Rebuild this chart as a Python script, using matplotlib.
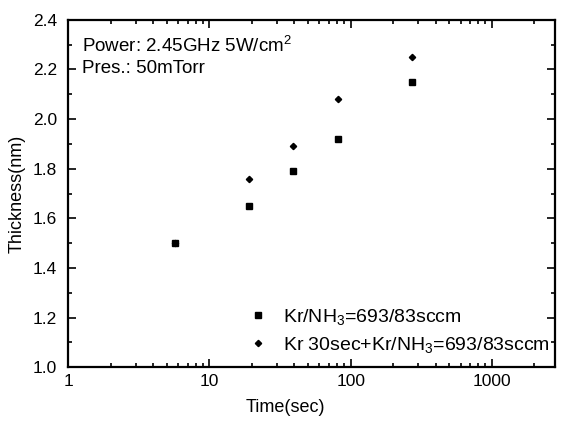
import matplotlib
matplotlib.use('Agg')
import matplotlib.pyplot as plt
from matplotlib.ticker import MultipleLocator, LogLocator, FixedLocator

plt.rcParams['font.family'] = ['Liberation Sans', 'DejaVu Sans']
plt.rcParams['mathtext.default'] = 'regular'

# nitridation time (s) and film thickness (nm)
time_kr_nh3 = [5.7, 19, 39, 82, 270]
thick_kr_nh3 = [1.50, 1.65, 1.79, 1.92, 2.15]

time_kr_pre = [5.7, 19, 39, 82, 270]
thick_kr_pre = [1.50, 1.76, 1.89, 2.08, 2.25]

label_a = 'Kr/NH$_3$=693/83sccm'
label_b = 'Kr 30sec+Kr/NH$_3$=693/83sccm'

fig = plt.figure(figsize=(5.63, 4.23), dpi=100)
ax = fig.add_axes([0.121, 0.132, 0.865, 0.821])

ax.plot(time_kr_nh3, thick_kr_nh3, 's', color='black', markersize=4.5,
        linestyle='none', label=label_a)
ax.plot(time_kr_pre, thick_kr_pre, 'D', color='black', markersize=3.2,
        linestyle='none', label=label_b)

ax.set_xscale('log')
ax.set_xlim(1, 2800)
ax.set_ylim(1.0, 2.4)
ax.xaxis.set_major_locator(FixedLocator([1, 10, 100, 1000]))
ax.set_xticklabels(['1', '10', '100', '1000'])
ax.xaxis.set_minor_locator(LogLocator(base=10, subs=range(2, 10), numticks=20))
ax.yaxis.set_major_locator(MultipleLocator(0.2))
ax.yaxis.set_minor_locator(MultipleLocator(0.1))
ax.yaxis.set_major_formatter(plt.FormatStrFormatter('%.1f'))

ax.tick_params(which='both', direction='in', top=True, right=True,
               labelsize=12.5, width=1.2)
ax.tick_params(which='major', length=6)
ax.tick_params(which='minor', length=3)
ax.tick_params(axis='x', which='major', pad=5)
ax.tick_params(axis='y', which='major', pad=8)
for s in ax.spines.values():
    s.set_linewidth(1.6)

ax.set_xlabel('Time(sec)', fontsize=13)
ax.xaxis.set_label_coords(0.446, -0.092)
ax.set_ylabel('Thickness(nm)', fontsize=13)
ax.yaxis.set_label_coords(-0.088, 0.5)

ax.text(0.029, 0.955, 'Power: 2.45GHz 5W/cm$^2$\nPres.: 50mTorr',
        transform=ax.transAxes, ha='left', va='top', fontsize=13.5,
        linespacing=1.3)

ax.legend(loc='lower left', bbox_to_anchor=(0.37, 0.035), frameon=False,
          fontsize=14, handlelength=1.0, handletextpad=0.8,
          labelspacing=0.4, borderaxespad=0.0, borderpad=0.0)

fig.savefig('out.png', dpi=100)
